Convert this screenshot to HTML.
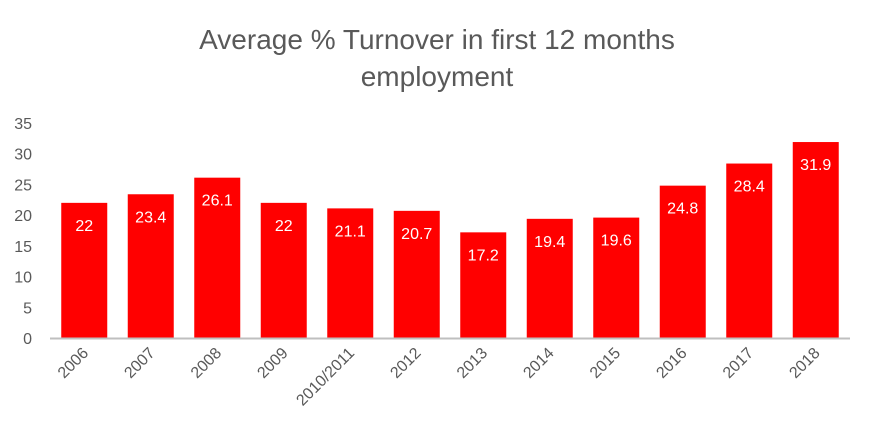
<!DOCTYPE html>
<html><head><meta charset="utf-8"><style>
html,body{margin:0;padding:0;background:#fff;}
svg text{font-family:"Liberation Sans",sans-serif;}
</style></head><body>
<svg id="chart" width="873" height="441" xmlns="http://www.w3.org/2000/svg">
<text x="437" y="49" text-anchor="middle" font-size="28" fill="#595959">Average % Turnover in first 12 months</text>
<text x="437" y="86" text-anchor="middle" font-size="28" fill="#595959">employment</text>
<g id="yaxis"></g><g id="bars"></g><g id="xaxis"></g>
<line x1="50" y1="338.5" x2="850" y2="338.5" stroke="#bfbfbf" stroke-width="2"/>
</svg>
<script>
const categories=["2006","2007","2008","2009","2010/2011","2012","2013","2014","2015","2016","2017","2018"];
const values=[22,23.4,26.1,22,21.1,20.7,17.2,19.4,19.6,24.8,28.4,31.9];
const yTicks=[0,5,10,15,20,25,30,35];
const NS="http://www.w3.org/2000/svg";
const x0=51,step=66.5,bw=46;
const y=v=>338-v*(215/35);
const xc=i=>x0+step*i+step/2;
function mk(t,a,p){const e=document.createElementNS(NS,t);for(const k in a)e.setAttribute(k,a[k]);p.appendChild(e);return e;}
const ya=document.getElementById('yaxis'),bg=document.getElementById('bars'),xa=document.getElementById('xaxis');
yTicks.forEach(t=>{const e=mk('text',{x:32,y:y(t)+6,'text-anchor':'end','font-size':16,fill:'#595959'},ya);


e.textContent=t;});
values.forEach((v,i)=>{
const r=mk('rect',{x:xc(i)-bw/2,y:y(v),width:bw,height:338-y(v),fill:'#ff0000'},bg);


const l=mk('text',{x:xc(i),y:y(v)+28,'text-anchor':'middle','font-size':16,fill:'#fff'},bg);


l.textContent=v;
const c=mk('text',{x:xc(i)+5,y:354,'text-anchor':'end','font-size':16,fill:'#595959',transform:`rotate(-45 ${xc(i)+5} 354)`},xa);


c.textContent=categories[i];
});
</script>
</body></html>
